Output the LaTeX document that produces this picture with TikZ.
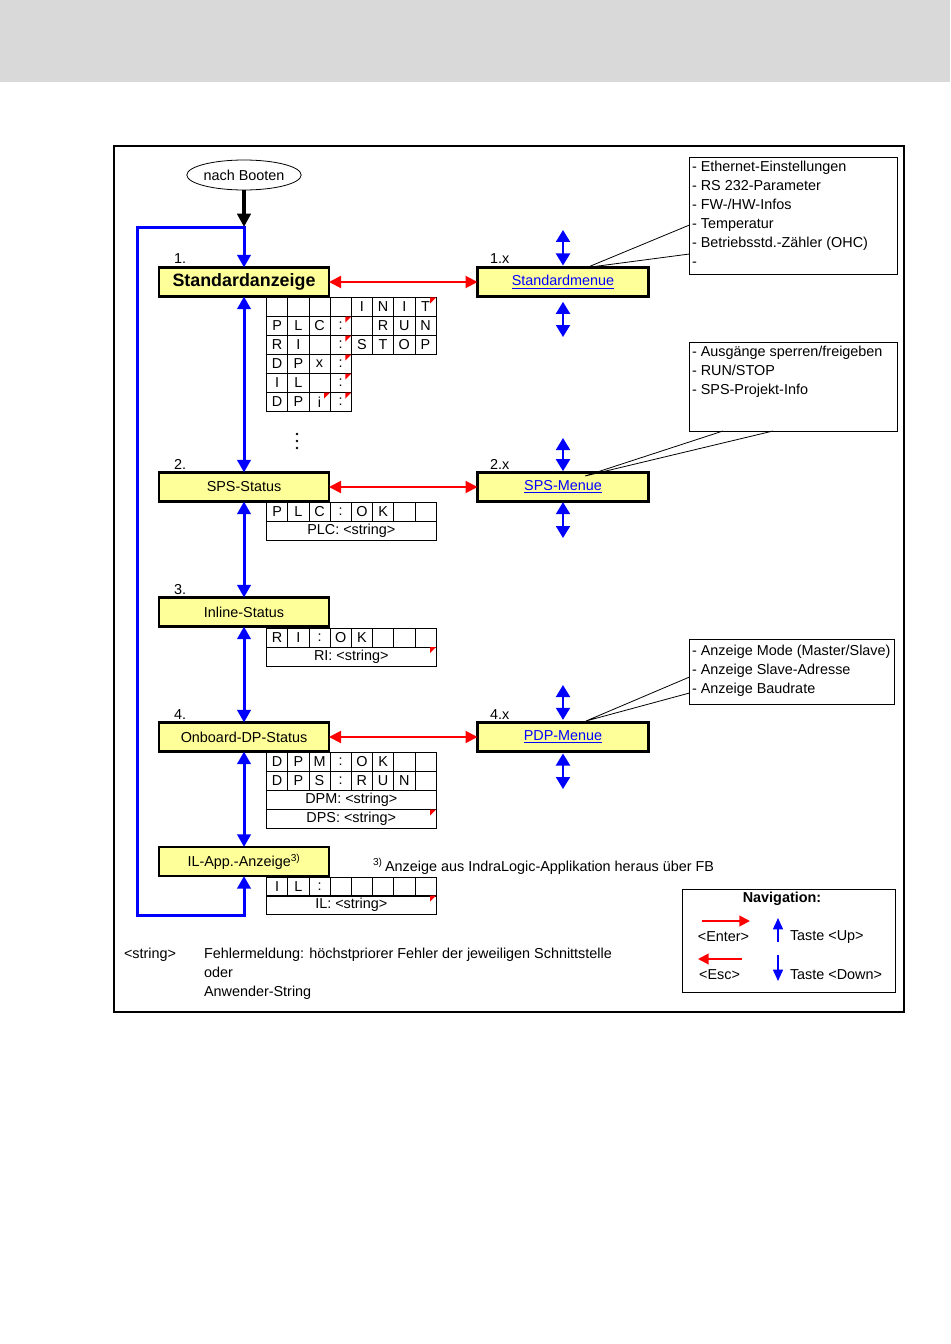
\documentclass[tikz,border=0pt]{standalone}
\usepackage{fontspec}
\setmainfont{Liberation Sans}
\usetikzlibrary{arrows.meta,shapes.geometric,calc}
\definecolor{bandgray}{RGB}{217,217,217}
\definecolor{boxyellow}{RGB}{255,255,153}
\definecolor{linkblue}{RGB}{0,0,255}
\newcommand{\cellrow}[3]{%
  \foreach \celltxt [count=\i from 0] in {#3} {
    \node[cell] (#1-\i) at ({266.5+\i*21.2+10.6},#2) {\celltxt};
  }}
\newcommand{\redcorner}[1]{\fill[red] (#1.north east) -- ++(-6,0) -- ++(0,6) -- cycle;}
\begin{document}
\begin{tikzpicture}[x=0.75pt,y=-0.75pt,
  every node/.style={font=\fontsize{10.8}{13}\selectfont, inner sep=0pt, outer sep=0pt},
  statebox/.style={draw, line width=1.6pt, fill=boxyellow, minimum width=127.5pt, minimum height=21.75pt},
  menubox/.style={statebox, minimum width=128.25pt, text=linkblue},
  cell/.style={draw, line width=0.6pt, minimum width=15.9pt, minimum height=14.25pt},
  wide/.style={draw, line width=0.6pt, minimum width=127.2pt, minimum height=14.25pt},
  bluemain/.style={draw=blue, line width=2.25pt, {Triangle[length=9.5pt,width=10pt]}-{Triangle[length=9.5pt,width=10pt]}},
  redarr/.style={draw=red, line width=1.5pt, {Triangle[length=9pt,width=9pt]}-{Triangle[length=9pt,width=9pt]}},
  smallblue/.style={draw=blue, line width=1.5pt, {Triangle[length=9pt,width=10.5pt]}-{Triangle[length=9pt,width=10.5pt]}},
  callout/.style={draw, line width=0.6pt, anchor=north west},
  pointer/.style={draw, line width=0.6pt},
  thicksep/.style={line width=1.3pt},
  navred/.style={draw=red, line width=1.5pt, -{Triangle[length=8pt,width=8pt]}},
  navblue/.style={draw=blue, line width=1.1pt, -{Triangle[length=8.5pt,width=7.5pt]}}
]
\fill[white] (0,0) rectangle (950,1344);
\fill[bandgray] (0,0) rectangle (950,82);
\useasboundingbox (0,0) rectangle (950,1344);
\draw[line width=1.5pt] (114,146) rectangle (904,1012);

% start
\node[ellipse, draw, line width=0.6pt, minimum width=84pt, minimum height=22.5pt] (boot) at (244,175) {nach Booten};

% state boxes
\node[statebox, font=\fontsize{13.4}{16}\selectfont\bfseries] (std) at (244,282) {Standardanzeige};
\node[statebox] (sps) at (244,487) {SPS-Status};
\node[statebox] (inl) at (244,612) {Inline-Status};
\node[statebox] (odp) at (244,737) {Onboard-DP-Status};
\node[statebox] (ilapp) at (244,861.5) {IL-App.-Anzeige\textsuperscript{3)}};

\node[menubox] (stdm) at (563,282) {\underline{Standardmenue}};
\node[menubox] (spsm) at (563,487) {\underline{SPS-Menue}};
\node[menubox] (pdpm) at (563,737) {\underline{PDP-Menue}};

% numbers
\node[anchor=base west] (n1) at (174,264) {1.};
\node[anchor=base west] (n2) at (174,469) {2.};
\node[anchor=base west] (n3) at (174,594) {3.};
\node[anchor=base west] (n4) at (174,719) {4.};
\node[anchor=base west] (n1x) at (490,264) {1.x};
\node[anchor=base west] (n2x) at (490,469) {2.x};
\node[anchor=base west] (n4x) at (490,719) {4.x};

% black start arrow
\coordinate (bootend) at (244,227);
\draw[line width=2.5pt, -{Triangle[length=10pt,width=10pt]}] (boot.south) -- (bootend);

% blue loop
\coordinate (lt) at (137,228);
\coordinate (lb) at (137,915);
\draw[bluemain] (ilapp.south) |- (lb) -- (lt) -| (std.north);

% blue vertical arrows
\draw[bluemain] (std.south) -- (sps.north);
\draw[bluemain] (sps.south) -- (inl.north);
\draw[bluemain] (inl.south) -- (odp.north);
\draw[bluemain] (odp.south) -- (ilapp.north);

% red arrows
\draw[redarr] (std.east) -- (stdm.west);
\draw[redarr] (sps.east) -- (spsm.west);
\draw[redarr] (odp.east) -- (pdpm.west);

% small blue arrows at menus
\coordinate (su1) at (563,230);
\coordinate (sd1) at (563,337);
\draw[smallblue] (su1) -- ([yshift=1.5pt]stdm.north);
\draw[smallblue] ([yshift=-4pt]stdm.south) -- (sd1);
\coordinate (su2) at (563,438);
\coordinate (sd2) at (563,538);
\draw[smallblue] (su2) -- ([yshift=1pt]spsm.north);
\draw[smallblue] ([yshift=-0.5pt]spsm.south) -- (sd2);
\coordinate (su3) at (563,685);
\coordinate (sd3) at (563,789);
\draw[smallblue] (su3) -- ([yshift=2pt]pdpm.north);
\draw[smallblue] ([yshift=-1.5pt]pdpm.south) -- (sd3);

% dots
\foreach \k in {0,1,2} \fill (297,434+\k*7) circle[radius=1.1pt];

% grid Standardanzeige
\cellrow{g1a}{307}{{},{},{},{},I,N,I,T}
\cellrow{g1b}{326}{P,L,C,:,{},R,U,N}
\cellrow{g1c}{345}{R,I,{},:,S,T,O,P}
\cellrow{g1d}{364}{D,P,x,:}
\cellrow{g1e}{383}{I,L,{},:}
\cellrow{g1f}{402}{D,P,i,:}
\draw[thicksep] (g1a-5.north west) -- (g1c-5.south west);
\redcorner{g1a-7}\redcorner{g1b-3}\redcorner{g1c-3}\redcorner{g1d-3}\redcorner{g1e-3}\redcorner{g1f-2}\redcorner{g1f-3}

% grid SPS
\cellrow{g2a}{512}{P,L,C,:,O,K,{},{}}
\node[wide] (g2b) at (351.3,531) {PLC: <string>};
\draw[thicksep] (g2a-5.north west) -- (g2a-5.south west);

% grid Inline
\cellrow{g3a}{638}{R,I,:,O,K,{},{},{}}
\node[wide] (g3b) at (351.3,656.5) {RI: <string>};
\draw[thicksep] (g3a-5.north west) -- (g3a-5.south west);
\redcorner{g3b}

% grid Onboard
\cellrow{g4a}{762}{D,P,M,:,O,K,{},{}}
\cellrow{g4b}{781}{D,P,S,:,R,U,N,{}}
\node[wide] (g4c) at (351.3,800) {DPM: <string>};
\node[wide] (g4d) at (351.3,819) {DPS: <string>};
\draw[thicksep] (g4a-5.north west) -- (g4b-5.south west);
\draw[thicksep] (g4d.north west) -- (g4d.north east);
\redcorner{g4d}

% grid IL
\cellrow{g5a}{886.5}{I,L,:,{},{},{},{},{}}
\node[wide] (g5b) at (351.3,905) {IL: <string>};
\draw[thicksep] (g5a-5.north west) -- (g5a-5.south west);
\redcorner{g5b}

% callout 1
\node[callout, minimum width=156pt, minimum height=87.75pt] (cb1) at (689.5,157.5) {};
\foreach \t [count=\i from 0] in {- Ethernet-Einstellungen, - RS 232-Parameter, - FW-/HW-Infos, - Temperatur, - Betriebsstd.-Zähler (OHC), -}
  \node[anchor=base west] (cb1-\i) at (692,172+\i*19) {\t};
\coordinate (t1) at (587,267.5);
\coordinate (b1a) at ($(cb1.north west)+(0,67.5)$);
\coordinate (b1b) at ($(cb1.north west)+(0,96.5)$);
\draw[pointer] (b1a) -- (t1) -- (b1b);

% callout 2
\node[callout, minimum width=156pt, minimum height=66.75pt] (cb2) at (689.5,342) {};
\foreach \t [count=\i from 0] in {- Ausgänge sperren/freigeben, - RUN/STOP, - SPS-Projekt-Info}
  \node[anchor=base west] (cb2-\i) at (692,356.5+\i*19) {\t};
\coordinate (t2) at (585,476);
\coordinate (b2a) at ($(cb2.south west)+(33.5,0)$);
\coordinate (b2b) at ($(cb2.south west)+(83.5,0)$);
\draw[pointer] (b2a) -- (t2) -- (b2b);

% callout 3
\node[callout, minimum width=153.75pt, minimum height=48.4pt] (cb3) at (689.5,639.5) {};
\foreach \t [count=\i from 0] in {- Anzeige Mode (Master/Slave), - Anzeige Slave-Adresse, - Anzeige Baudrate}
  \node[anchor=base west] (cb3-\i) at (692,655+\i*19) {\t};
\coordinate (t3) at (586,721);
\coordinate (b3a) at ($(cb3.north west)+(0,37.5)$);
\coordinate (b3b) at ($(cb3.north west)+(0,53.5)$);
\draw[pointer] (b3a) -- (t3) -- (b3b);

% footnote
\node[anchor=base west] (fn) at (373,871) {\textsuperscript{3)}\,Anzeige aus IndraLogic-Applikation heraus über FB};

% bottom legend text
\node[anchor=base west] (strk) at (124,958) {<string>};
\node[anchor=base west] (str1) at (204,958) {Fehlermeldung: höchstpriorer Fehler der jeweiligen Schnittstelle};
\node[anchor=base west] (str2) at (204,977) {oder};
\node[anchor=base west] (str3) at (204,996) {Anwender-String};

% navigation box
\node[draw, line width=0.6pt, minimum width=159.75pt, minimum height=77.25pt] (nav) at (788.5,940.5) {};
\node[font=\fontsize{10.8}{13}\selectfont\bfseries] (navt) at (782,899) {Navigation:};
\coordinate (ne1) at (702,921);
\coordinate (ne2) at (750,921);
\draw[navred] (ne1) -- (ne2);
\node (enter) at (723.5,937) {<Enter>};
\coordinate (nx1) at (742,959);
\coordinate (nx2) at (698,959);
\draw[navred] (nx1) -- (nx2);
\node (esc) at (719.5,975) {<Esc>};
\coordinate (nu1) at (778,942);
\coordinate (nu2) at (778,918);
\draw[navblue] (nu1) -- (nu2);
\coordinate (nd1) at (778,955);
\coordinate (nd2) at (778,981);
\draw[navblue] (nd1) -- (nd2);
\node[anchor=west] (tup) at (790,937) {Taste <Up>};
\node[anchor=west] (tdown) at (790,975) {Taste <Down>};
\end{tikzpicture}
\end{document}
